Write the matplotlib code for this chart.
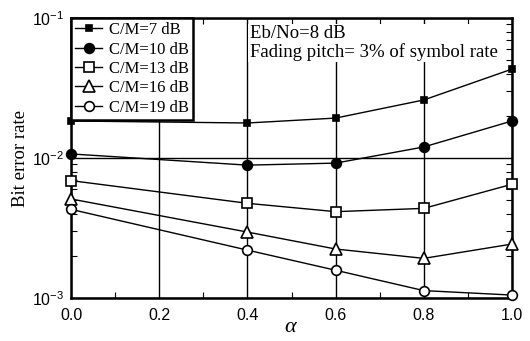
import numpy as np
import matplotlib.pyplot as plt
from matplotlib.ticker import MultipleLocator, LogLocator

plt.rcParams['mathtext.fontset'] = 'custom'
plt.rcParams['mathtext.rm'] = 'Liberation Sans'
plt.rcParams['mathtext.it'] = 'Liberation Serif:italic'

# alpha values where markers sit
alpha = [0.0, 0.4, 0.6, 0.8, 1.0]

ber_cm7 = [0.0184, 0.0178, 0.0193, 0.0260, 0.0432]
ber_cm10 = [0.0107, 0.0089, 0.0092, 0.0120, 0.0184]
ber_cm13 = [0.0069, 0.00475, 0.00414, 0.00437, 0.0065]
ber_cm16 = [0.0051, 0.00296, 0.00224, 0.00192, 0.00243]
ber_cm19 = [0.0043, 0.0022, 0.00158, 0.00113, 0.00105]

labels = ['C/M=7 dB', 'C/M=10 dB', 'C/M=13 dB', 'C/M=16 dB', 'C/M=19 dB']
series = [ber_cm7, ber_cm10, ber_cm13, ber_cm16, ber_cm19]

fig = plt.figure(figsize=(5.3, 3.41), dpi=100)
ax = fig.add_axes([0.134, 0.126, 0.832, 0.821])

styles = [
    dict(marker='s', ms=5, mfc='black'),
    dict(marker='o', ms=7, mfc='black'),
    dict(marker='s', ms=7, mfc='white'),
    dict(marker='^', ms=8, mfc='white'),
    dict(marker='o', ms=7, mfc='white'),
]
for ys, lab, st in zip(series, labels, styles):
    ax.plot(alpha, ys, color='black', lw=1.0, mec='black', mew=1.2,
            label=lab, clip_on=False, zorder=3, **st)

ax.set_yscale('log')
ax.set_xlim(0, 1)
ax.set_ylim(1e-3, 1e-1)

ax.xaxis.set_major_locator(MultipleLocator(0.2))
ax.xaxis.set_minor_locator(MultipleLocator(0.1))
ax.yaxis.set_major_locator(LogLocator(base=10))
ax.yaxis.set_minor_locator(LogLocator(base=10, subs=np.arange(2, 10)))

ax.grid(True, which='major', color='black', lw=1.0)
ax.tick_params(which='both', direction='in', top=True, right=True, color='black')
ax.tick_params(which='major', length=0, labelsize=11.5)
ax.tick_params(axis='x', which='major', pad=7)
ax.tick_params(axis='y', which='major', pad=5)
ax.tick_params(which='minor', length=4, width=0.8)
for t in ax.get_yticklabels():
    t.set_family('Liberation Sans')
ax.set_xticks([0, 0.2, 0.4, 0.6, 0.8, 1.0])
ax.set_xticklabels(['0.0', '0.2', '0.4', '0.6', '0.8', '1.0'], family='Liberation Sans')

for s in ax.spines.values():
    s.set_linewidth(1.8)

ax.set_ylabel('Bit error rate', family='Liberation Serif', fontsize=13.5, labelpad=2)
ax.set_xlabel(r'$\alpha$', fontsize=16, labelpad=-5)

leg = ax.legend(loc='upper left', prop={'family': 'Liberation Serif', 'size': 12},
                frameon=True, fancybox=False, edgecolor='black', framealpha=1,
                borderaxespad=0.0, handlelength=1.6, handletextpad=0.4,
                labelspacing=0.2, borderpad=0.25)
leg.get_frame().set_linewidth(1.8)
leg.set_zorder(5)

ax.text(0.405, 0.975, 'Eb/No=8 dB\nFading pitch= 3% of symbol rate',
        transform=ax.transAxes, ha='left', va='top', family='Liberation Serif',
        fontsize=13.5, linespacing=1.05, zorder=6,
        bbox=dict(facecolor='white', edgecolor='none', pad=1))

fig.savefig('out.png', dpi=100)
